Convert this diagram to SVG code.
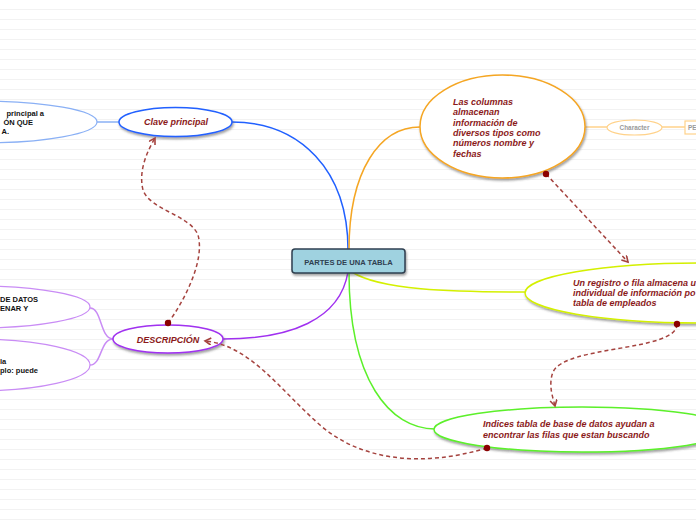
<svg xmlns="http://www.w3.org/2000/svg" width="696" height="520" viewBox="0 0 696 520">
<style>
.t{font-family:"Liberation Sans",Arial,sans-serif;font-weight:bold;font-style:italic;font-size:9px;fill:#8b1a1a}
.s{font-family:"Liberation Sans",Arial,sans-serif;font-weight:bold;font-size:7.5px;fill:#111}
.c{fill:none;stroke-width:1.5}
.d{fill:none;stroke:#a5433f;stroke-width:1.5;stroke-dasharray:4 3;marker-start:url(#dot);marker-end:url(#arr)}
</style>
<defs>
<pattern id="lines" width="10" height="10" patternUnits="userSpaceOnUse">
<rect width="10" height="10" fill="#fff"/>
<line x1="0" y1="9.5" x2="10" y2="9.5" stroke="#f2f2f2" stroke-width="1"/>
</pattern>
<filter id="sh" x="-10%" y="-20%" width="120%" height="150%">
<feDropShadow dx="1" dy="2" stdDeviation="1" flood-color="#444" flood-opacity="0.5"/>
</filter>
<marker id="dot" markerWidth="8" markerHeight="8" refX="4" refY="4" markerUnits="userSpaceOnUse">
<circle cx="4" cy="4" r="3.2" fill="#8b0000"/>
</marker>
<marker id="arr" markerWidth="10" markerHeight="10" refX="7" refY="4" orient="auto" markerUnits="userSpaceOnUse">
<path d="M1,0.5 L7,4 L1,7.5" fill="none" stroke="#a5433f" stroke-width="1.6"/>
</marker>
</defs>
<rect width="696" height="520" fill="url(#lines)"/>

<g id="connectors">
<path class="c" stroke="#2060ff" d="M348,250 C348,170 300,122 232,122"/>
<path class="c" stroke="#a030f0" d="M348,272 C340,320 290,339 223,339"/>
<path class="c" stroke="#f5a623" d="M349,250 C349,170 380,127 420,127"/>
<path class="c" stroke="#d4f000" d="M352,272 C380,290 450,292 525,292"/>
<path class="c" stroke="#5cf02a" d="M349,272 C349,380 390,429 435,429"/>
<path class="c" stroke="#8ab0f5" stroke-width="1.2" d="M97,122 L119,122"/>
<path class="c" stroke="#c98cf5" stroke-width="1.2" d="M113,339 C100,339 102,308 90,308"/>
<path class="c" stroke="#c98cf5" stroke-width="1.2" d="M113,339 C100,339 102,365 90,365"/>
<path class="c" stroke="#ffd28a" stroke-width="1.2" d="M585,127 L607,127"/>
<path class="c" stroke="#ffd28a" stroke-width="1.2" d="M662,127 L685,127"/>
</g>

<g id="clave-child">
<ellipse cx="-20" cy="122" rx="117" ry="21" fill="#fff" stroke="#8ab0f5" stroke-width="1.2"/>
<text class="s" x="44" y="116" text-anchor="end">principal a</text>
<text class="s" x="33" y="125" text-anchor="end">ÓN QUE</text>
<text class="s" x="9" y="134" text-anchor="end">A.</text>
</g>

<g id="desc-child-1">
<ellipse cx="-25" cy="307" rx="115" ry="21" fill="#fff" stroke="#c98cf5" stroke-width="1.2"/>
<text class="s" x="0" y="302">DE DATOS</text>
<text class="s" x="0" y="311">ENAR Y</text>
</g>

<g id="desc-child-2">
<ellipse cx="-25" cy="365" rx="115" ry="26" fill="#fff" stroke="#c98cf5" stroke-width="1.2"/>
<text class="s" x="0" y="364">la</text>
<text class="s" x="0" y="373">plo: puede</text>
</g>

<g id="clave-principal">
<ellipse cx="175.5" cy="122" rx="56.5" ry="14.5" fill="#fff" stroke="#2060ff" stroke-width="1.5" filter="url(#sh)"/>
<text class="t" x="176" y="125" text-anchor="middle">Clave principal</text>
</g>

<g id="descripcion">
<ellipse cx="168" cy="339" rx="55" ry="14" fill="#fff" stroke="#a030f0" stroke-width="1.5" filter="url(#sh)"/>
<text class="t" x="168" y="342.5" text-anchor="middle">DESCRIPCIÓN</text>
</g>

<g id="columnas">
<ellipse cx="502.5" cy="126.5" rx="82.5" ry="51.5" fill="#fff" stroke="#f5a623" stroke-width="1.5" filter="url(#sh)"/>
<text class="t" x="453" y="105">Las columnas</text>
<text class="t" x="453" y="115.3">almacenan</text>
<text class="t" x="453" y="125.6">información de</text>
<text class="t" x="453" y="135.9">diversos tipos como</text>
<text class="t" x="453" y="146.2">números nombre y</text>
<text class="t" x="453" y="156.5">fechas</text>
</g>

<g id="character">
<ellipse cx="634.5" cy="127.5" rx="27.5" ry="7.5" fill="#fff" stroke="#ffd28a" stroke-width="1.2"/>
<text x="634.5" y="130" text-anchor="middle" style="font-family:'Liberation Sans',Arial,sans-serif;font-weight:bold;font-size:6.4px;fill:#999">Character</text>
</g>

<g id="pe">
<rect x="685" y="121" width="40" height="13" fill="#fff" stroke="#ffd28a" stroke-width="1.2"/>
<text x="688" y="130" style="font-family:'Liberation Sans',Arial,sans-serif;font-weight:bold;font-size:6.4px;fill:#999">PE</text>
</g>

<g id="registro">
<ellipse cx="700" cy="293" rx="175" ry="30" fill="#fff" stroke="#d4f000" stroke-width="1.5" filter="url(#sh)"/>
<text class="t" x="573" y="286">Un registro o fila almacena u</text>
<text class="t" x="573" y="296">individual de información po</text>
<text class="t" x="573" y="306">tabla de empleados</text>
</g>

<g id="indices">
<ellipse cx="582" cy="429.5" rx="148" ry="22.5" fill="#fff" stroke="#5cf02a" stroke-width="1.5" filter="url(#sh)"/>
<text class="t" x="483" y="427">Indices tabla de base de datos ayudan a</text>
<text class="t" x="483" y="438">encontrar las filas que estan buscando</text>
</g>

<g id="central">
<rect x="292" y="249" width="113" height="24" rx="3" fill="#9fd2e0" stroke="#2f4050" stroke-width="1.5" filter="url(#sh)"/>
<text x="348.5" y="264.5" text-anchor="middle" style="font-family:'Liberation Sans',Arial,sans-serif;font-weight:bold;font-size:7.6px;fill:#2f4050">PARTES DE UNA TABLA</text>
</g>

<g id="links">
<path class="d" d="M168,323 C185,300 205,260 198,235 C190,215 150,210 143,190 C138,170 148,150 155,138"/>
<path class="d" d="M546,174 L628,262"/>
<path class="d" d="M677,324 C677,352 565,345 553,372 C548,385 553,398 555,406"/>
<path class="d" d="M487,448 C420,468 360,460 320,425 C280,390 250,345 205,341"/>
</g>
</svg>
